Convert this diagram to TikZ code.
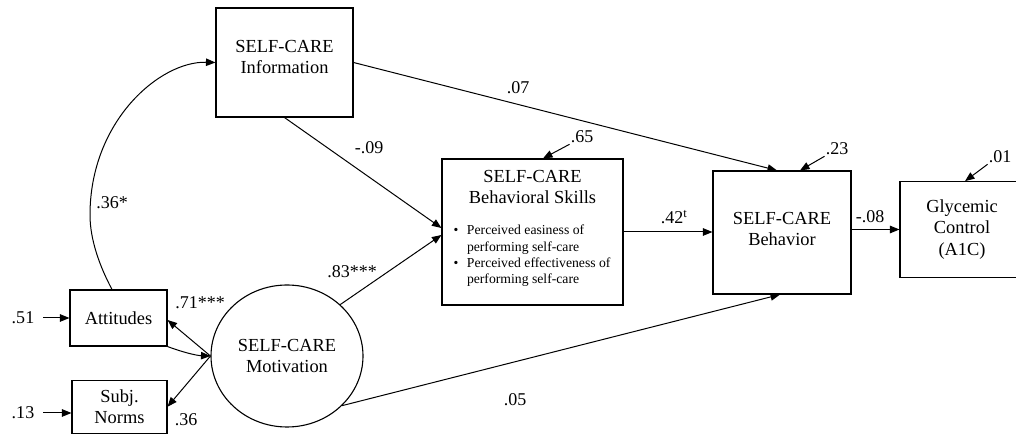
\documentclass[tikz,border=0pt]{standalone}
\usepackage{fontspec}
\setmainfont{Liberation Serif}
\usetikzlibrary{arrows.meta,shapes.geometric,calc}
\newcommand\ttlsize{\fontsize{18.4}{21.5}\selectfont}
\newcommand\lblsize{\fontsize{18}{21}\selectfont}
\newcommand\bulsize{\fontsize{13.7}{16.3}\selectfont}
\begin{document}
\begin{tikzpicture}[x=1pt,y=1pt,
  box/.style={draw, line width=1.1pt, inner sep=0pt},
  ttl/.style={font=\ttlsize, align=center, inner sep=0pt},
  lbl/.style={font=\lblsize, inner sep=1pt},
  arr/.style={line width=1pt, -{Triangle[length=9.5pt,width=7.5pt]}},
  line join=miter]
\clip (0,0) rectangle (1016,435);

% --- constructs ---
\node[box, minimum width=137, minimum height=109] (info) at (284.5,372.5) {};
\node[ttl] (infotext) at (284.5,378) {SELF-CARE\\Information};

\node[box, minimum width=181, minimum height=146] (skills) at (532.5,203) {};
\node[ttl] (skillstitle) at (532.5,248) {SELF-CARE\\Behavioral Skills};
\node[font=\bulsize, anchor=west, inner sep=0pt] (skillslist) at (453.5,179)
  {\begin{tabular}{@{}l@{\hspace{8.5pt}}l@{}}
   \textbullet & Perceived easiness of\\
               & performing self-care\\
   \textbullet & Perceived effectiveness of\\
               & performing self-care
   \end{tabular}};

\node[box, minimum width=138, minimum height=123] (beh) at (782,202.5) {};
\node[ttl] (behtext) at (782,206) {SELF-CARE\\Behavior};

\node[box, ttl, minimum width=124, minimum height=95.6] (gly) at (962,205.5)
  {Glycemic\\Control\\(A1C)};

\node[box, ttl, minimum width=97, minimum height=56] (att) at (118.5,117) {Attitudes};
\node[box, ttl, minimum width=95, minimum height=53] (subj) at (119.5,28.3) {Subj.\\Norms};

\node[box, ttl, ellipse, minimum width=152, minimum height=142] (mot) at (287,79)
  {SELF-CARE\\Motivation};

% --- error terms ---
\node[lbl] (e51) at (23,117) {.51};
\node[lbl] (e13) at (23,22) {.13};
\node[lbl] (e65) at (582,298) {.65};
\node[lbl] (e23) at (837,286) {.23};
\node[lbl] (e01) at (1000,278) {.01};

\draw[arr] ([xshift=8pt]e51.east) -- (att.west);
\draw[arr] ([xshift=8pt]e13.east) -- (e13.east -| subj.west);
\draw[arr] (e65.south west) -- ([xshift=10.5pt]skills.north);
\draw[arr] (e23.south west) -- ([xshift=18pt]beh.north);
\draw[arr] (e01.south west) -- ([xshift=3pt]gly.north);

% --- paths ---
\draw[arr] ([xshift=-6.5pt]att.north) .. controls (100,168) and (90,195) .. (90,220)
  .. controls (90,314) and (160,374) .. (info.west);
\draw[arr] (info.east) -- ([xshift=-5pt]beh.north);
\draw[arr] (info.south) -- ([yshift=4pt]skills.west);
\draw[arr] (mot.44) -- ([yshift=-3pt]skills.west);
\draw[arr] (mot.-42) -- ([xshift=-2pt]beh.south);
\draw[arr] (skills.east) -- (skills.east -| beh.west);
\draw[arr] (gly.west -| beh.east) -- (gly.west);

\draw[arr] (mot.west) -- ([yshift=-2pt]att.east);
\draw[arr] (att.south east) .. controls (182,83) and (196,79.5) .. (mot.west);
\draw[arr] (mot.west) -- (subj.east);

% --- coefficients ---
\node[lbl] (c36a) at (112,232) {.36*};
\node[lbl] (c09) at (369,287) {-.09};
\node[lbl] (c07) at (518,347) {.07};
\node[lbl] (c83) at (352,163) {.83***};
\node[lbl] (c42) at (674,218) {.42\textsuperscript{t}};
\node[lbl] (c08) at (870,218) {-.08};
\node[lbl] (c71) at (200,132) {.71***};
\node[lbl] (c36b) at (186,15) {.36};
\node[lbl] (c05) at (515,35) {.05};
\end{tikzpicture}
\end{document}
